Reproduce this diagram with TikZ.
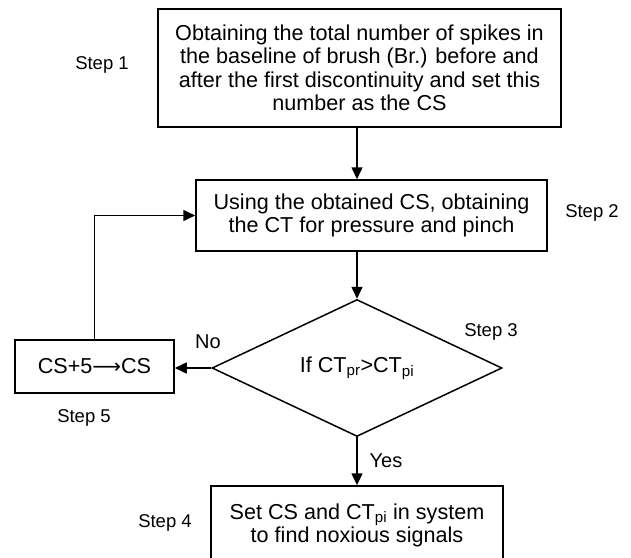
\documentclass[tikz,border=0pt]{standalone}
\usepackage{fontspec}
\setmainfont{Liberation Sans}
\newfontfamily\djv{DejaVu Sans}
\usetikzlibrary{shapes.geometric,arrows.meta}
\begin{document}
\begin{tikzpicture}[x=1pt,y=-1pt,
  box/.style={draw, line width=1.5pt, align=center, inner sep=0pt, font=\fontsize{21.6}{23.5}\selectfont},
  lbl/.style={font=\fontsize{18.5}{20}\selectfont, inner sep=0pt},
  yn/.style={font=\fontsize{20}{22}\selectfont, inner sep=0pt},
  arr/.style={line width=1.5pt, -{Triangle[length=12pt,width=11pt]}}]
\useasboundingbox (0,0) rectangle (631,557);
\begin{scope}
\clip (0,0) rectangle (631,557);
\node[box, minimum width=403pt, minimum height=118pt] (b1) at (359.5,68)
  {Obtaining the total number of spikes in\\the baseline of brush (Br.) before and\\after the first discontinuity and set this\\number as the CS};
\node[box, minimum width=351pt, minimum height=71pt] (b2) at (371.5,215.5)
  {Using the obtained CS, obtaining\\the CT for pressure and pinch};
\node[diamond, draw, line width=1.5pt, minimum width=290pt, minimum height=112pt, inner sep=0pt,
  font=\fontsize{21.6}{24}\selectfont] (d) at (357,368) {If CT\textsubscript{pr}>CT\textsubscript{pi}};
\node[box, minimum width=159pt, minimum height=53pt] (b5) at (94.5,366.5) {CS+5{\djv\fontsize{20}{22}\selectfont ⟶}CS};
\node[box, minimum width=292pt, minimum height=74pt, text depth=0pt] (b4) at (357,523)
  {Set CS and CT\textsubscript{pi} in system\\to find noxious signals};

\node[lbl] (s1) at (102,65) {Step 1};
\node[lbl] (s2) at (592,213) {Step 2};
\node[lbl] (s3) at (491,332) {Step 3};
\node[lbl] (s4) at (165,523) {Step 4};
\node[lbl] (s5) at (84,418) {Step 5};
\node[yn] (no) at (208,342) {No};
\node[yn] (yes) at (386,461) {Yes};

\draw[arr] (b1.south -| d.north) -- (b2.north -| d.north);
\draw[arr] (b2.south -| d.north) -- (d.north);
\draw[arr] (d.west) -- (b5.east |- d.west);
\draw[arr] (b5.north) |- (b2.west);
\draw[arr] (d.south) -- (b4.north);
\end{scope}
\end{tikzpicture}
\end{document}
